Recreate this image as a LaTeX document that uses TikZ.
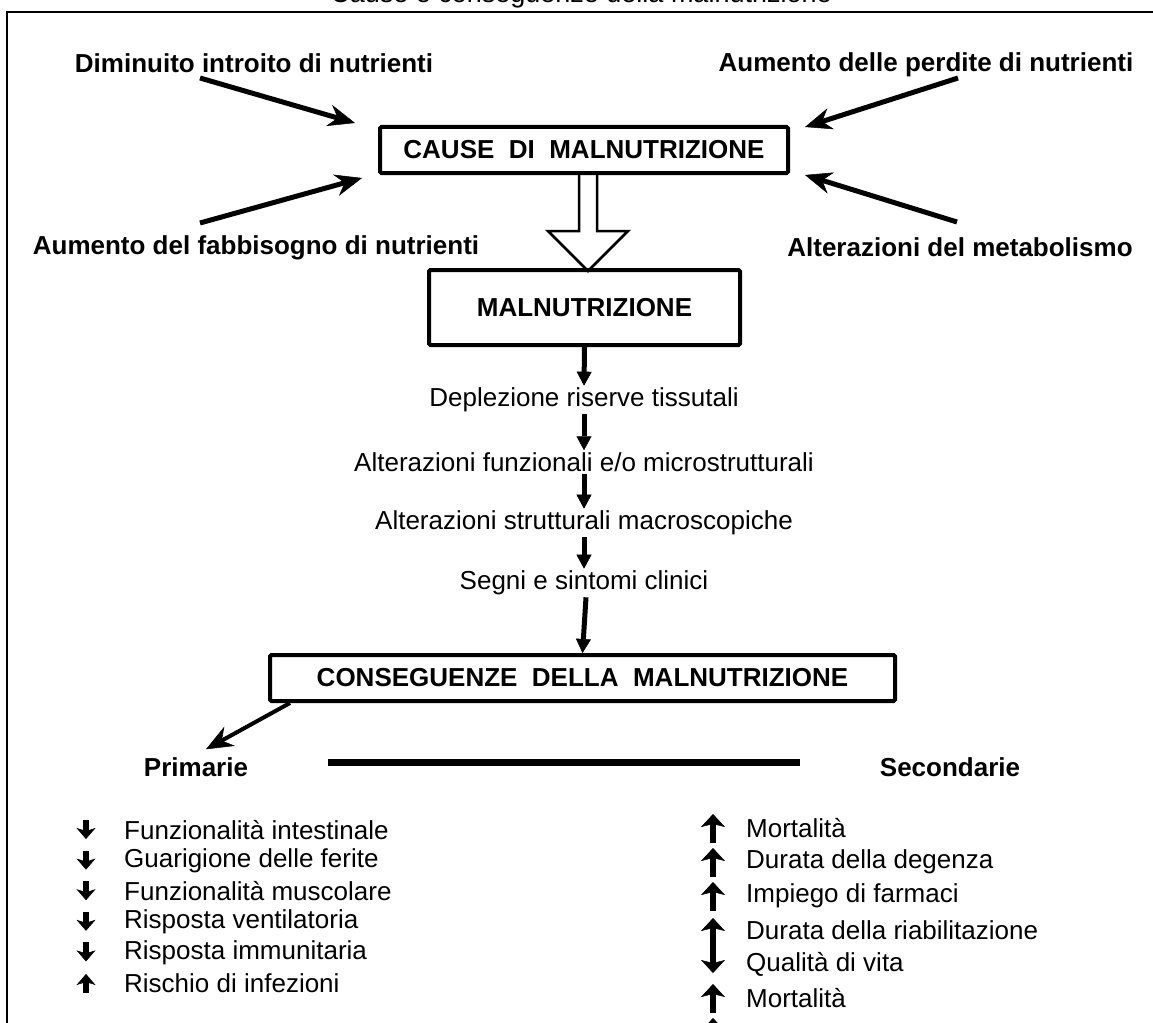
\documentclass[tikz,border=0pt]{standalone}
\usepackage{fontspec}
\setmainfont{Liberation Sans}
\usetikzlibrary{arrows.meta,positioning,calc}

\begin{document}
\begin{tikzpicture}[
    x=1pt, y=-1pt,
    every node/.style={inner sep=2pt},
    bigbox/.style={draw, line width=4pt, rounded corners=1.5pt, inner sep=0pt,
        font=\fontsize{26}{30}\selectfont\bfseries},
    causa/.style={font=\fontsize{26}{30}\selectfont\bfseries},
    passo/.style={font=\fontsize{26}{30}\selectfont},
    voceS/.style={font=\fontsize{26}{30}\selectfont, anchor=west},
    voceP/.style={font=\fontsize{26}{30}\selectfont, anchor=west},
    spinta/.style={line width=5pt, -{Stealth[length=27pt,width=22pt,inset=9pt,line width=0.5pt]}},
    freccia/.style={line width=5pt, -{Triangle[length=14pt,width=15pt,line width=0.5pt]}},
    frecciaS/.style={line width=6.5pt, -{Stealth[length=13pt,width=24pt,inset=3pt,line width=0.5pt]}},
    doppia/.style={line width=6.5pt, {Stealth[length=13pt,width=24pt,inset=3pt,line width=0.5pt]}-{Stealth[length=13pt,width=24pt,inset=3pt,line width=0.5pt]}},
    frecciaP/.style={line width=5.5pt, -{Stealth[length=11pt,width=19pt,inset=3pt,line width=0.5pt]}},
]
\useasboundingbox (0,0) rectangle (1153,1022);
\clip (0,0) rectangle (1153,1022);

% titolo (tagliato in alto) e cornice
\node[anchor=base, font=\fontsize{27}{30}\selectfont] (titolo) at (581,3) {Cause e conseguenze della malnutrizione};
\draw[line width=2pt] (7,1030) -- (7,12) -- (1160,12);

% cause
\node[bigbox, minimum width=408pt, minimum height=46pt] (cause) at (584,150) {CAUSE\ \ DI\ \ MALNUTRIZIONE};
\node[causa] (dimin) at (254,63) {Diminuito introito di nutrienti};
\node[causa] (perdite) at (926,65) {Aumento delle perdite di nutrienti};
\node[causa] (fabbis) at (256,248) {Aumento del fabbisogno di nutrienti};
\node[causa] (metab) at (960,247) {Alterazioni del metabolismo};

\coordinate (c1) at (200,78);
\coordinate (c2) at (200,223);
\coordinate (c3) at (958,78);
\coordinate (c4) at (957,222);
\draw[spinta] (c1) -- ($(cause.north west)+(-23,-2)$);
\draw[spinta] (c2) -- ($(cause.south west)+(-16,3)$);
\draw[spinta] (c3) -- ($(cause.north east)+(15,2)$);
\draw[spinta] (c4) -- ($(cause.south east)+(15,0)$);

% freccia vuota
\draw[line width=2.5pt, line join=miter] ($(cause.south)+(-5,0)$) -- ++(0,56) -- ++(-31,0)
    -- ++(40,40) -- ++(40,-40) -- ++(-31,0) -- ++(0,-56);

% malnutrizione e sequenza
\node[bigbox, minimum width=311pt, minimum height=75pt] (maln) at (584.5,307.5) {MALNUTRIZIONE};
\node[passo] (depl) at (584,400) {Deplezione riserve tissutali};
\node[passo] (funz) at (584,462) {Alterazioni funzionali e/o microstrutturali};
\node[passo] (strut) at (584,523) {Alterazioni strutturali macroscopiche};
\node[passo] (segni) at (584,583) {Segni e sintomi clinici};
\node[bigbox, minimum width=625pt, minimum height=46pt] (cons) at (582.5,678) {CONSEGUENZE\ \ DELLA\ \ MALNUTRIZIONE};

\draw[freccia] (maln.south) -- (depl.north);
\draw[freccia] (depl.south) -- (funz.north);
\draw[freccia] (funz.south) -- (strut.north);
\draw[freccia] (strut.south) -- (segni.north);
\draw[freccia] ([xshift=2pt]segni.south) -- (cons.north);

% conseguenze
\node[causa] (prim) at (196,767) {Primarie};
\node[causa] (sec) at (950,767) {Secondarie};
\draw[spinta, line width=4pt] ([xshift=22pt]cons.south west) -- ([xshift=10pt,yshift=6pt]prim.north);
\coordinate (l1) at (328,762);
\coordinate (l2) at (800,762);
\draw[line width=7pt] (l1) -- (l2);

\foreach \s/\txt [count=\i from 0] in {1/Funzionalità intestinale, 1/Guarigione delle ferite,
    1/Funzionalità muscolare, 1/Risposta ventilatoria, 1/Risposta immunitaria, -1/Rischio di infezioni}{
  \node[voceP] (p\i) at (122,830+30.6*\i) {\txt};
  \draw[frecciaP] (86,{830+30.6*\i-10*\s}) -- (86,{830+30.6*\i+9*\s});
}

\foreach \s/\txt [count=\i from 0] in {1/Mortalità, 1/Durata della degenza, 1/Impiego di farmaci,
    0/Durata della riabilitazione, 0/Qualità di vita, 1/Mortalità}{
  \node[voceS] (s\i) at (744,828+34*\i) {\txt};
  \ifnum\s=1
    \draw[frecciaS] (713,{828+34*\i+15}) -- (713,{828+34*\i-14});
  \fi
}
\draw[doppia] (713,918) -- (713,973);
\draw[frecciaS] (713,1047) -- (713,1018);
\end{tikzpicture}
\end{document}
